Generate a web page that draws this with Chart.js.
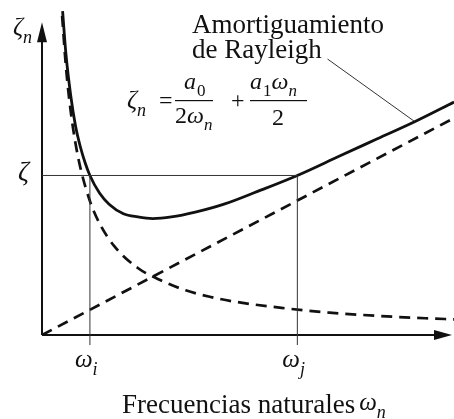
<!DOCTYPE html>
<html>
<head>
<meta charset="utf-8">
<script src="https://cdn.jsdelivr.net/npm/chart.js@4.4.1/dist/chart.umd.min.js"></script>
<style>
  html, body { margin: 0; padding: 0; background: #fff; }
  canvas { display: block; }
</style>
</head>
<body>
<canvas id="rayleigh" width="454" height="419"></canvas>
<script>
// Rayleigh damping: total curve and its two parts (omega in units of omega_i, zeta in units of target zeta)
const totalOmega = [0.43, 0.5, 0.6, 0.7, 0.8, 0.9, 1.0, 1.2, 1.4, 1.7, 2.0, 2.31, 2.7, 3.2, 3.8, 4.5, 5.33, 6.2, 7.0, 7.8, 8.6];
const totalZeta  = [2.03, 1.76, 1.50, 1.31, 1.18, 1.08, 1.00, 0.89, 0.82, 0.76, 0.74, 0.73, 0.74, 0.77, 0.82, 0.90, 1.00, 1.12, 1.23, 1.34, 1.46];

const massOmega = [0.42, 0.5, 0.6, 0.7, 0.8, 1.0, 1.2, 1.5, 2.0, 2.5, 3.0, 3.5, 4.0, 5.0, 6.0, 7.0, 8.0, 8.6];
const massZeta  = [2.00, 1.68, 1.40, 1.20, 1.05, 0.84, 0.70, 0.56, 0.42, 0.34, 0.28, 0.24, 0.21, 0.17, 0.14, 0.12, 0.105, 0.098];

const stiffOmega = [0, 8.6];
const stiffZeta  = [0, 1.36];

// target damping and the two chosen frequencies
const zetaTarget = 1.0;
const omegaI = 1.0;
const omegaJ = 5.33;

// leader line from the caption to the curve
const leaderOmega = [5.96, 7.77];
const leaderZeta  = [1.73, 1.34];

const tickLabels = [['ω', 'i'], ['ω', 'j']];

const pts = (xs, ys) => xs.map((x, i) => ({ x: x, y: ys[i] }));

const SERIF = '"Liberation Serif", "DejaVu Serif", serif';
const INK = '#111';

// italic symbol with a subscript, returns the end x
function mathSub(ctx, base, sub, x, y, size, uprightSub) {
  ctx.font = 'italic ' + size + 'px ' + SERIF;
  ctx.fillText(base, x, y);
  const w = ctx.measureText(base).width;
  ctx.font = (uprightSub ? '' : 'italic ') + Math.round(size * 0.7) + 'px ' + SERIF;
  ctx.fillText(sub, x + w + (uprightSub ? 1 : 0), y + size * 0.3);
  return x + w + ctx.measureText(sub).width + (uprightSub ? 1 : 0);
}

const axesPlugin = {
  id: 'axesPlugin',
  beforeDatasetsDraw(chart) {
    const ctx = chart.ctx;
    const xs = chart.scales.x, ys = chart.scales.y;
    const x0 = xs.getPixelForValue(0), y0 = ys.getPixelForValue(0);
    const yTop = ys.getPixelForValue(1.96);
    const xEnd = chart.chartArea.right - 2;
    ctx.save();
    ctx.strokeStyle = INK;
    ctx.fillStyle = INK;
    ctx.lineWidth = 2;
    ctx.beginPath();
    ctx.moveTo(x0, y0);
    ctx.lineTo(x0, yTop + 14);
    ctx.moveTo(x0, y0);
    ctx.lineTo(xEnd - 14, y0);
    ctx.stroke();
    // arrow heads
    ctx.beginPath();
    ctx.moveTo(x0, yTop);
    ctx.lineTo(x0 - 5, yTop + 20);
    ctx.lineTo(x0 + 5, yTop + 20);
    ctx.closePath();
    ctx.fill();
    ctx.beginPath();
    ctx.moveTo(xEnd, y0);
    ctx.lineTo(xEnd - 18, y0 - 5);
    ctx.lineTo(xEnd - 18, y0 + 5);
    ctx.closePath();
    ctx.fill();
    ctx.restore();
  },
  afterDraw(chart) {
    const ctx = chart.ctx;
    const xs = chart.scales.x, ys = chart.scales.y;
    const x0 = xs.getPixelForValue(0), y0 = ys.getPixelForValue(0);
    ctx.save();
    ctx.fillStyle = INK;
    ctx.textBaseline = 'alphabetic';
    ctx.textAlign = 'left';

    // vertical axis label
    mathSub(ctx, 'ζ', 'n', x0 - 29, 35, 25);
    // target damping label
    ctx.font = 'italic 27px ' + SERIF;
    ctx.fillText('ζ', x0 - 24, ys.getPixelForValue(zetaTarget) + 5);

    // frequency marks
    [omegaI, omegaJ].forEach((w, i) => {
      const px = xs.getPixelForValue(w);
      mathSub(ctx, tickLabels[i][0], tickLabels[i][1], px - 15, y0 + 32, 25);
    });

    // horizontal axis title
    ctx.font = '27px ' + SERIF;
    const title = 'Frecuencias naturales';
    ctx.fillText(title, 122, 413);
    const tw = ctx.measureText(title).width;
    mathSub(ctx, 'ω', 'n', 122 + tw + 4, 410, 25);

    // caption
    ctx.font = '27px ' + SERIF;
    ctx.fillText('Amortiguamiento', 192, 33);
    ctx.fillText('de Rayleigh', 192, 58);

    // formula
    const barY = 100;
    mathSub(ctx, 'ζ', 'n', 127, 108, 25);
    ctx.font = '24px ' + SERIF;
    ctx.fillText('=', 159, 108);
    // first fraction
    ctx.fillRect(175, barY, 38, 1.2);
    mathSub(ctx, 'a', '0', 184, 89, 24, true);
    ctx.font = '24px ' + SERIF;
    ctx.fillText('2', 175, 123);
    mathSub(ctx, 'ω', 'n', 187, 123, 24);
    ctx.font = '24px ' + SERIF;
    ctx.fillText('+', 231, 108);
    // second fraction
    ctx.fillRect(250, barY, 57, 1.2);
    const ex = mathSub(ctx, 'a', '1', 250, 89, 24, true);
    mathSub(ctx, 'ω', 'n', ex, 89, 24);
    ctx.font = '24px ' + SERIF;
    ctx.fillText('2', 272, 125);
    ctx.restore();
  }
};

const thin = { borderColor: '#333', borderWidth: 1, clip: false };

new Chart(document.getElementById('rayleigh'), {
  type: 'scatter',
  data: {
    datasets: [
      Object.assign({ data: pts([0, omegaJ], [zetaTarget, zetaTarget]) }, thin),
      Object.assign({ data: pts([omegaI, omegaI], [-0.063, zetaTarget]) }, thin),
      Object.assign({ data: pts([omegaJ, omegaJ], [-0.063, zetaTarget]) }, thin),
      Object.assign({ data: pts(leaderOmega, leaderZeta) }, thin),
      {
        label: 'Amortiguamiento de Rayleigh',
        data: pts(totalOmega, totalZeta),
        borderColor: INK,
        borderWidth: 2.8,
        cubicInterpolationMode: 'monotone'
      },
      {
        label: 'a0 / 2ω',
        data: pts(massOmega, massZeta),
        borderColor: INK,
        borderWidth: 2.7,
        borderDash: [11, 7],
        cubicInterpolationMode: 'monotone'
      },
      {
        label: 'a1 ω / 2',
        data: pts(stiffOmega, stiffZeta),
        borderColor: INK,
        borderWidth: 2.7,
        borderDash: [11, 7]
      }
    ]
  },
  options: {
    responsive: false,
    animation: false,
    devicePixelRatio: 1,
    showLine: true,
    elements: { point: { radius: 0 }, line: { fill: false } },
    layout: { padding: { left: 42, right: 0, top: 0, bottom: 84 } },
    scales: {
      x: { type: 'linear', min: 0, max: 8.6, display: false },
      y: { type: 'linear', min: 0, max: 2.1, display: false }
    },
    plugins: { legend: { display: false }, tooltip: { enabled: false } }
  },
  plugins: [axesPlugin]
});
</script>
</body>
</html>
